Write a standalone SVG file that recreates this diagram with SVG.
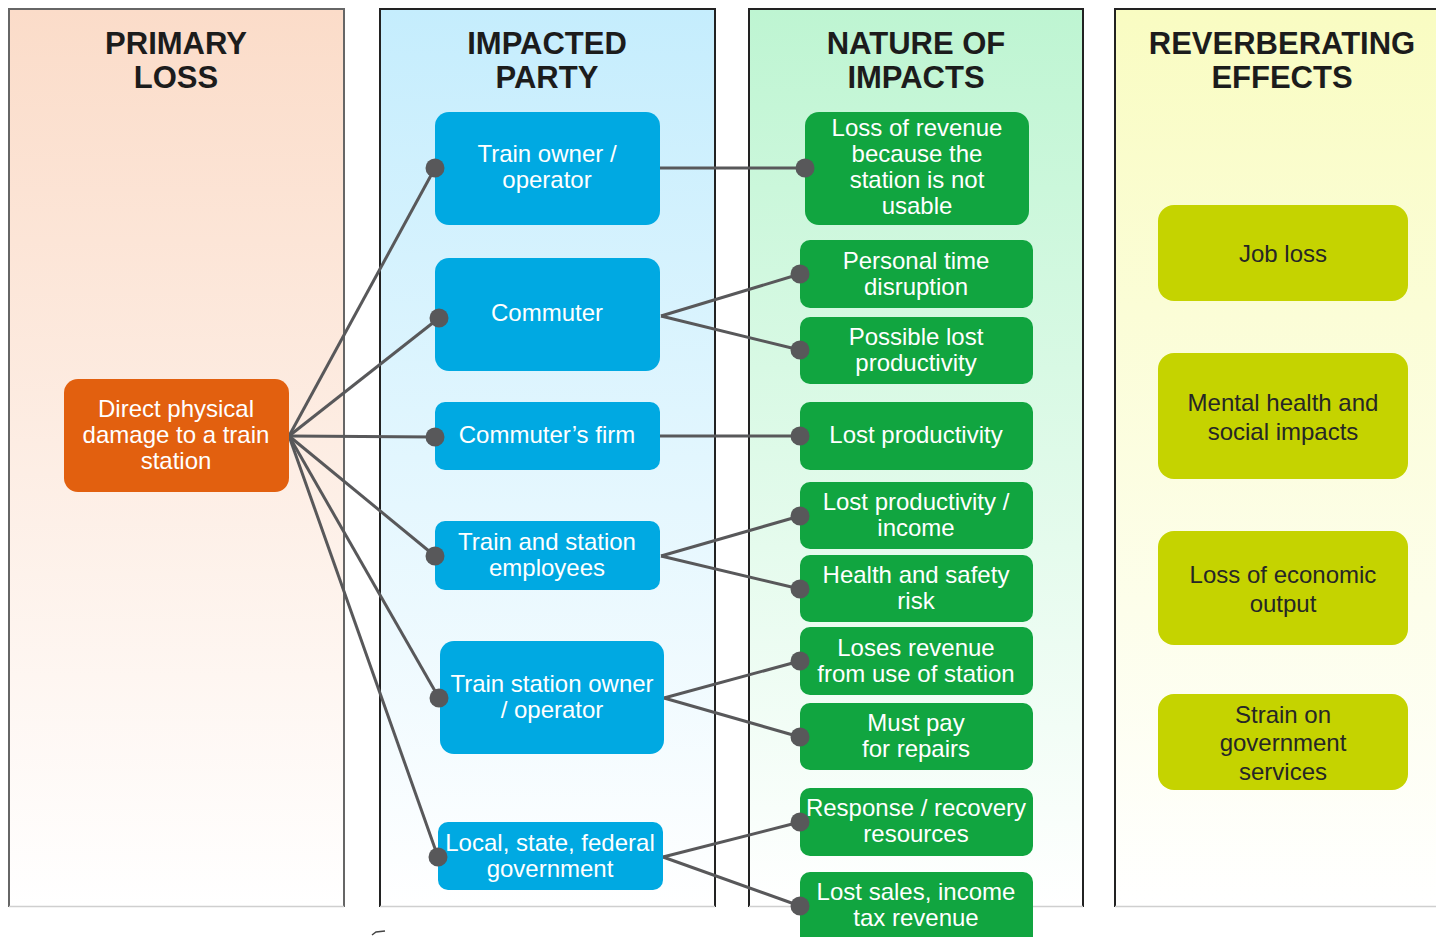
<svg xmlns="http://www.w3.org/2000/svg" width="1436" height="937" viewBox="0 0 1436 937">
<defs>
<linearGradient id="gOrange" x1="0" y1="0" x2="0" y2="1"><stop offset="0" stop-color="#fbdcc9"/><stop offset="1" stop-color="#ffffff"/></linearGradient>
<linearGradient id="gBlue" x1="0" y1="0" x2="0" y2="1"><stop offset="0" stop-color="#c5edfd"/><stop offset="1" stop-color="#ffffff"/></linearGradient>
<linearGradient id="gGreen" x1="0" y1="0" x2="0" y2="1"><stop offset="0" stop-color="#bef5d2"/><stop offset="1" stop-color="#ffffff"/></linearGradient>
<linearGradient id="gYellow" x1="0" y1="0" x2="0" y2="1"><stop offset="0" stop-color="#f9fcc2"/><stop offset="1" stop-color="#ffffff"/></linearGradient>
<style>
.hd{font-family:"Liberation Sans",Arial,sans-serif;font-weight:bold;font-size:31px;fill:#1c1c1c;text-anchor:middle}
.tw{font-family:"Liberation Sans",Arial,sans-serif;font-size:24px;fill:#ffffff;text-anchor:middle}
.td{font-family:"Liberation Sans",Arial,sans-serif;font-size:24px;fill:#262626;text-anchor:middle}
.orange{fill:#e2600f}
.blue{fill:#00a9e2}
.green{fill:#11a540}
.yellow{fill:#c5d300}
.edge{stroke:#58585a;stroke-width:3;fill:none}
.dot{fill:#58585a}
.bd{stroke:#222;stroke-width:2;fill:none}
.bdl{stroke:#666;stroke-width:2;fill:none}
.bb{stroke:#cfcfcf;stroke-width:1.5;fill:none}
</style>
</defs>
<rect width="1436" height="937" fill="#ffffff"/>
<g id="panels">
<rect x="9" y="9" width="335" height="897" fill="url(#gOrange)"/>
<path class="bdl" d="M9,907 V9 H344 V907"/>
<line class="bb" x1="9" y1="906.5" x2="344" y2="906.5"/>
<rect x="380" y="9" width="335" height="897" fill="url(#gBlue)"/>
<path class="bd" d="M380,907 V9 H715 V907"/>
<line class="bb" x1="380" y1="906.5" x2="715" y2="906.5"/>
<rect x="749" y="9" width="334" height="897" fill="url(#gGreen)"/>
<path class="bd" d="M749,907 V9 H1083 V907"/>
<line class="bb" x1="749" y1="906.5" x2="1083" y2="906.5"/>
<rect x="1115" y="9" width="321" height="897" fill="url(#gYellow)"/>
<path class="bd" d="M1115,907 V9 H1437"/>
<line class="bb" x1="1115" y1="906.5" x2="1436" y2="906.5"/>
<text class="hd" x="176" y="54">PRIMARY</text><text class="hd" x="176" y="88">LOSS</text>
<text class="hd" x="547" y="54">IMPACTED</text><text class="hd" x="547" y="88">PARTY</text>
<text class="hd" x="916" y="54">NATURE OF</text><text class="hd" x="916" y="88">IMPACTS</text>
<text class="hd" x="1282" y="54">REVERBERATING</text><text class="hd" x="1282" y="88">EFFECTS</text>
<path d="M372,935 L376,932 L385,931" stroke="#444" stroke-width="1.5" fill="none"/>
</g>
<g id="connectors">
<line class="edge" x1="289" y1="436" x2="435" y2="168"/>
<line class="edge" x1="289" y1="436" x2="439" y2="318"/>
<line class="edge" x1="289" y1="436" x2="435" y2="437"/>
<line class="edge" x1="289" y1="436" x2="435" y2="556"/>
<line class="edge" x1="289" y1="436" x2="439" y2="698"/>
<line class="edge" x1="289" y1="436" x2="438" y2="857"/>
<line class="edge" x1="660" y1="168" x2="805" y2="168"/>
<line class="edge" x1="661" y1="316" x2="800" y2="274"/>
<line class="edge" x1="661" y1="316" x2="800" y2="350"/>
<line class="edge" x1="660" y1="436" x2="800" y2="436"/>
<line class="edge" x1="661" y1="556" x2="800" y2="516"/>
<line class="edge" x1="661" y1="556" x2="800" y2="589"/>
<line class="edge" x1="664" y1="698" x2="800" y2="661"/>
<line class="edge" x1="664" y1="698" x2="800" y2="737"/>
<line class="edge" x1="663" y1="857" x2="800" y2="822"/>
<line class="edge" x1="663" y1="857" x2="800" y2="906"/>
</g>
<g id="n-primary"><rect class="orange" x="64" y="379" width="225" height="113" rx="14"/>
<text class="tw" x="176" y="417">Direct physical</text><text class="tw" x="176" y="443">damage to a train</text><text class="tw" x="176" y="469">station</text></g>
<g id="n-train-owner"><rect class="blue" x="435" y="112" width="225" height="113" rx="14"/>
<text class="tw" x="547" y="162">Train owner /</text><text class="tw" x="547" y="188">operator</text></g>
<g id="n-commuter"><rect class="blue" x="435" y="258" width="225" height="113" rx="14"/>
<text class="tw" x="547" y="321">Commuter</text></g>
<g id="n-firm"><rect class="blue" x="435" y="402" width="225" height="68" rx="10"/>
<text class="tw" x="547" y="443">Commuter’s firm</text></g>
<g id="n-employees"><rect class="blue" x="435" y="521" width="225" height="69" rx="10"/>
<text class="tw" x="547" y="550">Train and station</text><text class="tw" x="547" y="576">employees</text></g>
<g id="n-station-owner"><rect class="blue" x="440" y="641" width="224" height="113" rx="14"/>
<text class="tw" x="552" y="692">Train station owner</text><text class="tw" x="552" y="718">/ operator</text></g>
<g id="n-government"><rect class="blue" x="438" y="822" width="225" height="68" rx="10"/>
<text class="tw" x="550" y="851">Local, state, federal</text><text class="tw" x="550" y="877">government</text></g>
<g id="n-loss-revenue"><rect class="green" x="805" y="112" width="224" height="113" rx="14"/>
<text class="tw" x="917" y="136">Loss of revenue</text><text class="tw" x="917" y="162">because the</text><text class="tw" x="917" y="188">station is not</text><text class="tw" x="917" y="214">usable</text></g>
<g id="n-personal"><rect class="green" x="800" y="240" width="233" height="68" rx="10"/>
<text class="tw" x="916" y="269">Personal time</text><text class="tw" x="916" y="295">disruption</text></g>
<g id="n-possible"><rect class="green" x="800" y="317" width="233" height="67" rx="10"/>
<text class="tw" x="916" y="345">Possible lost</text><text class="tw" x="916" y="371">productivity</text></g>
<g id="n-lost-prod"><rect class="green" x="800" y="402" width="233" height="68" rx="10"/>
<text class="tw" x="916" y="443">Lost productivity</text></g>
<g id="n-lost-income"><rect class="green" x="800" y="482" width="233" height="67" rx="10"/>
<text class="tw" x="916" y="510">Lost productivity /</text><text class="tw" x="916" y="536">income</text></g>
<g id="n-health"><rect class="green" x="800" y="555" width="233" height="67" rx="10"/>
<text class="tw" x="916" y="583">Health and safety</text><text class="tw" x="916" y="609">risk</text></g>
<g id="n-loses-revenue"><rect class="green" x="800" y="627" width="233" height="68" rx="10"/>
<text class="tw" x="916" y="656">Loses revenue</text><text class="tw" x="916" y="682">from use of station</text></g>
<g id="n-repairs"><rect class="green" x="800" y="703" width="233" height="67" rx="10"/>
<text class="tw" x="916" y="731">Must pay</text><text class="tw" x="916" y="757">for repairs</text></g>
<g id="n-response"><rect class="green" x="800" y="788" width="233" height="68" rx="10"/>
<text class="tw" x="916" y="816">Response / recovery</text><text class="tw" x="916" y="842">resources</text></g>
<g id="n-lost-sales"><rect class="green" x="800" y="872" width="233" height="75" rx="10"/>
<text class="tw" x="916" y="900">Lost sales, income</text><text class="tw" x="916" y="926">tax revenue</text></g>
<g id="n-job"><rect class="yellow" x="1158" y="205" width="250" height="96" rx="16"/>
<text class="td" x="1283" y="262">Job loss</text></g>
<g id="n-mental"><rect class="yellow" x="1158" y="353" width="250" height="126" rx="16"/>
<text class="td" x="1283" y="411">Mental health and</text><text class="td" x="1283" y="440">social impacts</text></g>
<g id="n-economic"><rect class="yellow" x="1158" y="531" width="250" height="114" rx="16"/>
<text class="td" x="1283" y="583">Loss of economic</text><text class="td" x="1283" y="612">output</text></g>
<g id="n-strain"><rect class="yellow" x="1158" y="694" width="250" height="96" rx="16"/>
<text class="td" x="1283" y="723">Strain on</text><text class="td" x="1283" y="751">government</text><text class="td" x="1283" y="780">services</text></g>
<g id="dots">
<circle class="dot" cx="435" cy="168" r="9.5"/>
<circle class="dot" cx="439" cy="318" r="9.5"/>
<circle class="dot" cx="435" cy="437" r="9.5"/>
<circle class="dot" cx="435" cy="556" r="9.5"/>
<circle class="dot" cx="439" cy="698" r="9.5"/>
<circle class="dot" cx="438" cy="857" r="9.5"/>
<circle class="dot" cx="805" cy="168" r="9.5"/>
<circle class="dot" cx="800" cy="274" r="9.5"/>
<circle class="dot" cx="800" cy="350" r="9.5"/>
<circle class="dot" cx="800" cy="436" r="9.5"/>
<circle class="dot" cx="800" cy="516" r="9.5"/>
<circle class="dot" cx="800" cy="589" r="9.5"/>
<circle class="dot" cx="800" cy="661" r="9.5"/>
<circle class="dot" cx="800" cy="737" r="9.5"/>
<circle class="dot" cx="800" cy="822" r="9.5"/>
<circle class="dot" cx="800" cy="906" r="9.5"/>
</g>
</svg>
